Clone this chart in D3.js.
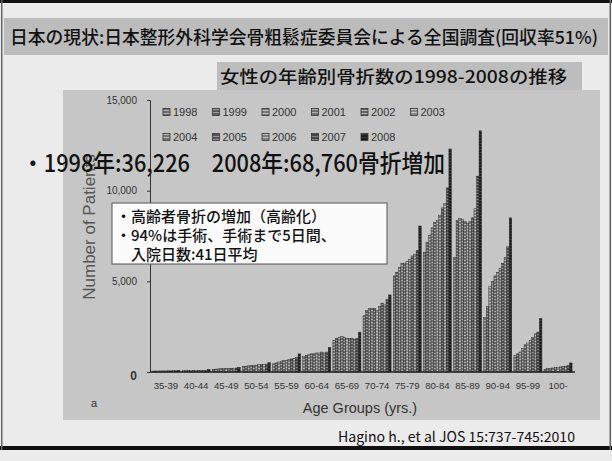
<!DOCTYPE html>
<html><head><meta charset="utf-8">
<script src="https://cdn.jsdelivr.net/npm/d3@7/dist/d3.min.js"></script>
<style>
html,body{margin:0;padding:0;background:#e9e9e9;}
svg{display:block;}
</style></head>
<body>
<svg id="c" width="612" height="461"></svg>
<script>
// ---- data ----
const categories = ["35-39","40-44","45-49","50-54","55-59","60-64","65-69","70-74","75-79","80-84","85-89","90-94","95-99","100-"];
const years = ["1998","1999","2000","2001","2002","2003","2004","2005","2006","2007","2008"];
const y1998 = [50,70,150,300,450,850,1750,3100,5300,6600,6300,3000,900,150];
const y1999 = [55,75,160,320,500,900,1850,3400,5500,7150,8350,3600,1000,180];
const y2000 = [55,80,170,340,550,950,1900,3500,5750,7550,8450,4700,1100,200];
const y2001 = [60,80,180,350,600,1000,1950,3500,6000,7950,8400,5000,1300,220];
const y2002 = [60,85,180,360,620,1000,1900,3500,6000,8250,8300,5300,1500,250];
const y2003 = [60,85,190,380,650,1050,1850,3400,6100,8350,8200,5500,1600,260];
const y2004 = [65,90,200,400,700,1050,1850,3600,6200,8650,8300,5700,1750,280];
const y2005 = [65,90,200,400,720,1100,1850,3800,6400,9050,8500,6000,1900,300];
const y2006 = [70,95,210,420,760,1050,1800,3700,6500,9300,9000,6300,2100,320];
const y2007 = [70,100,220,440,800,1100,1850,4000,6700,10150,10800,6900,2200,350];
const y2008 = [90,140,260,520,1000,1350,2200,4250,8050,12300,13300,8500,2950,500];
const yTicks = [0,5000,10000,15000];
const yTickLabels = ["0","5,000","10,000","15,000"];

const seriesValues = [y1998,y1999,y2000,y2001,y2002,y2003,y2004,y2005,y2006,y2007,y2008];

const titleText = "日本の現状:日本整形外科学会骨粗鬆症委員会による全国調査(回収率51%)";
const subtitleText = "女性の年齢別骨折数の1998-2008の推移";
const bigText = "・1998年:36,226　2008年:68,760骨折増加";
const boxLines = ["・高齢者骨折の増加（高齢化）","・94%は手術、手術まで5日間、","　入院日数:41日平均"];
const sourceText = "Hagino h., et al JOS 15:737-745:2010";

// ---- styles ----
const baseCol = ["#6e6e6e","#5e5e5e","#7c7c7c","#707070","#666666","#888888","#747474","#555555","#808080","#464646","#1e1e1e"];
const lineCol = ["#b4b4b4","#a8a8a8","#c4c4c4","#b8b8b8","#bcbcbc","#cccccc","#c0c0c0","#a0a0a0","#c8c8c8","#8a8a8a","#404040"];
const JP = "'Noto Sans CJK JP','Noto Sans CJK SC',sans-serif";
const AR = "'Liberation Sans',Arial,sans-serif";

const svg = d3.select("#c");
const defs = svg.append("defs");
years.forEach((yr,i)=>{
  const p = defs.append("pattern").attr("id","p"+yr).attr("patternUnits","userSpaceOnUse")
    .attr("width",3).attr("height",3);
  p.append("rect").attr("width",3).attr("height",3).attr("fill",baseCol[i]);
  p.append("rect").attr("y",i%2?1:2).attr("width",3).attr("height",0.9).attr("fill",lineCol[i]);
});

// page background & frames
svg.append("rect").attr("width",612).attr("height",461).attr("fill","#ebebeb");
svg.append("rect").attr("x",0).attr("y",0).attr("width",612).attr("height",3).attr("fill","#111");
svg.append("rect").attr("x",0).attr("y",446).attr("width",612).attr("height",4).attr("fill","#111");
svg.append("rect").attr("x",1).attr("y",0).attr("width",1.5).attr("height",450).attr("fill","#666");
svg.append("rect").attr("x",609.5).attr("y",0).attr("width",1.5).attr("height",450).attr("fill","#666");

// title band
svg.append("rect").attr("x",4).attr("y",18).attr("width",604).attr("height",37).attr("fill","#bcbcbc");
svg.append("text").attr("x",10).attr("y",44).attr("font-family",JP).attr("font-size",17.8).attr("font-weight",500)
  .attr("textLength",588).attr("lengthAdjust","spacingAndGlyphs").attr("fill","#111").text(titleText);

// chart panel
svg.append("rect").attr("x",63).attr("y",90).attr("width",537).attr("height",330).attr("fill","#c6c6c6");

// subtitle box
svg.append("rect").attr("x",217).attr("y",62).attr("width",365).attr("height",28).attr("fill","#bdbdbd");
svg.append("text").attr("x",220).attr("y",83).attr("font-family",JP).attr("font-size",17).attr("font-weight",500)
  .attr("textLength",347).attr("lengthAdjust","spacingAndGlyphs").attr("fill","#111").text(subtitleText);

// scales
const y = d3.scaleLinear().domain([0,15000]).range([372,100]);
const x0 = d3.scaleBand().domain(categories).range([151,573]).paddingInner(0.07).paddingOuter(0.03);
const x1 = d3.scaleBand().domain(years).range([0,x0.bandwidth()]);

// bars
const g = svg.append("g");
const groups = g.selectAll("g.grp").data(categories).join("g")
  .attr("transform",d=>`translate(${x0(d)},0)`);
groups.selectAll("rect").data((c,ci)=>years.map((yr,i)=>({yr,v:seriesValues[i][ci]}))).join("rect")
  .attr("x",d=>x1(d.yr)).attr("width",x1.bandwidth())
  .attr("y",d=>y(d.v)).attr("height",d=>y(0)-y(d.v))
  .attr("fill",d=>"url(#p"+d.yr+")").attr("stroke","#222").attr("stroke-width",0.45);

// y axis
const ya = svg.append("g").attr("transform","translate(150,0)")
  .call(d3.axisLeft(y).tickValues(yTicks).tickSize(3).tickPadding(10).tickFormat((d,i)=>yTickLabels[i]));
ya.select(".domain").attr("stroke","#333").attr("stroke-width",1);
ya.selectAll(".tick line").attr("stroke","#333");
ya.selectAll(".tick text").attr("font-family",AR).attr("font-size",10).attr("fill","#333");
ya.selectAll(".tick text").filter((d)=>d===0).attr("font-size",12).attr("font-weight","bold").attr("dy","0.6em");

// x axis
const xa = svg.append("g").attr("transform","translate(0,372)")
  .call(d3.axisBottom(x0).tickSize(0).tickPadding(10));
xa.select(".domain").attr("stroke","#222").attr("stroke-width",1.6).attr("d","M150,0H575");
xa.selectAll(".tick text").attr("font-family",AR).attr("font-size",9.6).attr("fill","#333");

// axis titles
svg.append("text").attr("transform","translate(95,227) rotate(-90)").attr("text-anchor","middle")
  .attr("font-family",AR).attr("font-size",17).attr("fill","#555").text("Number of Patients");
svg.append("text").attr("x",360).attr("y",413).attr("text-anchor","middle")
  .attr("font-family",AR).attr("font-size",14.5).attr("fill","#333").text("Age Groups (yrs.)");
svg.append("text").attr("x",91).attr("y",407).attr("font-family",AR).attr("font-size",11).attr("fill","#333").text("a");

// legend
const leg = svg.append("g");
years.forEach((yr,i)=>{
  const row = i<6?0:1, col = i<6?i:i-6;
  const lx = 163 + col*49.5, ly = row? 137 : 112;
  leg.append("rect").attr("x",lx).attr("y",ly-3.5).attr("width",7).attr("height",7)
    .attr("fill","url(#p"+yr+")").attr("stroke","#333").attr("stroke-width",0.8);
  leg.append("text").attr("x",lx+10).attr("y",ly+4).attr("font-family",AR).attr("font-size",11)
    .attr("fill","#333").text(yr);
});

// big overlay text
svg.append("text").attr("x",22).attr("y",172).attr("font-family",JP).attr("font-size",24).attr("font-weight",500)
  .attr("textLength",423).attr("lengthAdjust","spacingAndGlyphs").attr("fill","#111").text(bigText);

// note box
svg.append("rect").attr("x",112).attr("y",203).attr("width",275).attr("height",61)
  .attr("fill","#fbfbfb").attr("stroke","#555").attr("stroke-width",1);
const lineY = [224,243,262];
boxLines.forEach((t,i)=>{
  svg.append("text").attr("x",116).attr("y",lineY[i]-2).attr("font-family",JP).attr("font-size",15).attr("font-weight",500)
    .attr("fill","#111").text(t);
});

// source
svg.append("text").attr("x",338).attr("y",442).attr("font-family",JP).attr("font-size",14)
  .attr("textLength",237).attr("lengthAdjust","spacingAndGlyphs").attr("fill","#111").text(sourceText);
</script>
</body></html>
